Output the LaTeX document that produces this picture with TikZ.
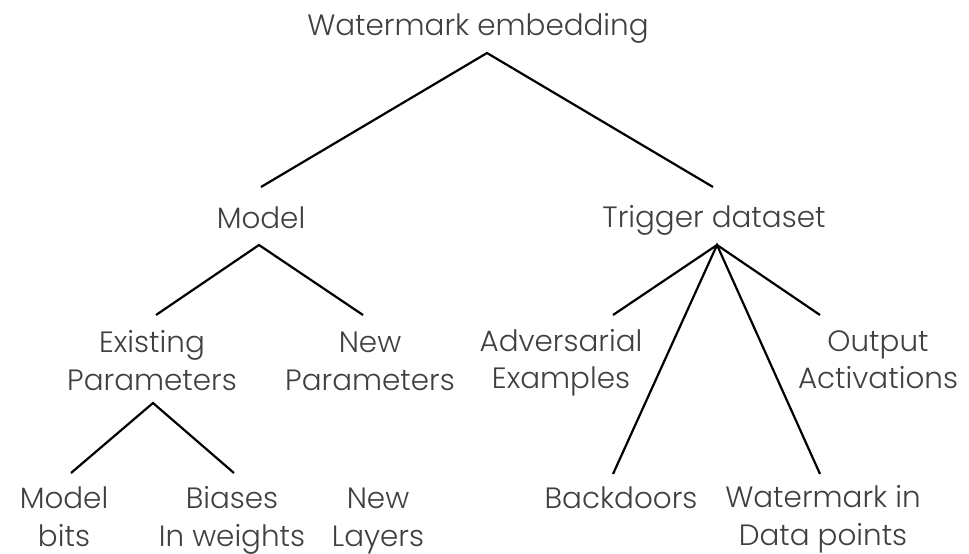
\documentclass[tikz,border=0pt]{standalone}
\usepackage{fontspec}
\setmainfont{Poppins Light}
\definecolor{txtgray}{HTML}{404040}
\begin{document}
\begin{tikzpicture}[x=1pt,y=-1pt,
  lbl/.style={font=\fontsize{29.4}{37.5}\selectfont, text=txtgray, inner sep=0pt, align=center, anchor=base},
  edge/.style={line width=2.2pt, draw=black}]
\useasboundingbox (0,0) rectangle (969,554);

% labels (base = baseline of the last line)
\node[lbl] (root)   at (478,35)  {Watermark embedding};
\node[lbl] (model)  at (261,228) {Model};
\node[lbl] (trig)   at (714,227) {Trigger dataset};
\node[lbl] (exist)  at (152,390) {Existing\\Parameters};
\node[lbl] (newp)   at (370,390) {New\\Parameters};
\node[lbl] (adv)    at (561,388.5) {Adversarial\\Examples};
\node[lbl] (out)    at (878,388.5) {Output\\Activations};
\node[lbl] (bits)   at (64,546)  {Model\\bits};
\node[lbl] (bias)   at (232,546) {Biases\\In weights};
\node[lbl] (layers) at (378,546) {New\\Layers};
\node[lbl] (back)   at (621,508) {Backdoors};
\node[lbl] (wmdp)   at (823,545) {Watermark in\\Data points};

% end points of the branches
\coordinate (root-tip)  at (487,53);
\coordinate (model-top) at (261,187);
\coordinate (trig-top)  at (713,187);
\coordinate (model-tip) at (259,245);
\coordinate (exist-top) at (156,315);
\coordinate (newp-top)  at (363,315);
\coordinate (trig-tip)  at (717,245);
\coordinate (adv-top)   at (613,315);
\coordinate (out-top)   at (820,315);
\coordinate (back-top)  at (613,474);
\coordinate (wmdp-top)  at (820,474);
\coordinate (exist-tip) at (153,403);
\coordinate (bits-top)  at (71,473);
\coordinate (bias-top)  at (234,473);

% branches
\draw[edge] (model-top) -- (root-tip) -- (trig-top);
\draw[edge] (exist-top) -- (model-tip) -- (newp-top);
\draw[edge] (adv-top) -- (trig-tip) -- (out-top);
\draw[edge] (back-top) -- (trig-tip) -- (wmdp-top);
\draw[edge] (bits-top) -- (exist-tip) -- (bias-top);
\end{tikzpicture}
\end{document}
